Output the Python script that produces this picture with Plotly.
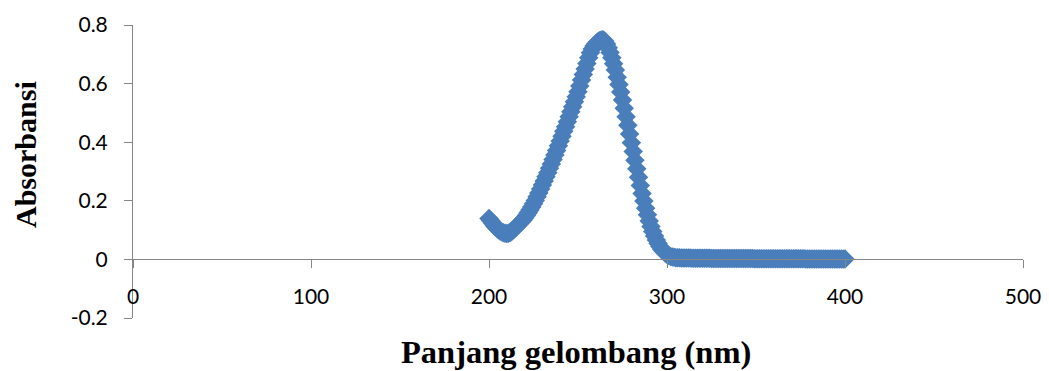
import plotly.graph_objects as go

# Wavelength (nm), 1 nm steps from 200 to 400
wavelength = list(range(200, 401))

# Absorbance (one value per nm)
absorb_peak = [
    0.140, 0.132, 0.124, 0.116, 0.109, 0.103, 0.098, 0.094, 0.091, 0.089,  # 200-209
    0.088, 0.089, 0.092, 0.097, 0.103, 0.110, 0.116, 0.122, 0.128, 0.134,  # 210-219
    0.141, 0.150, 0.159, 0.169, 0.179, 0.190, 0.201, 0.214, 0.227, 0.240,  # 220-229
    0.254, 0.268, 0.282, 0.296, 0.311, 0.326, 0.341, 0.356, 0.372, 0.388,  # 230-239
    0.404, 0.420, 0.437, 0.453, 0.470, 0.487, 0.504, 0.521, 0.538, 0.555,  # 240-249
    0.572, 0.592, 0.612, 0.631, 0.650, 0.669, 0.688, 0.705, 0.718, 0.728,  # 250-259
    0.736, 0.742, 0.746, 0.749, 0.750, 0.745, 0.735, 0.722, 0.706, 0.688,  # 260-269
    0.668, 0.646, 0.622, 0.597, 0.571, 0.544, 0.516, 0.487, 0.458, 0.428,  # 270-279
    0.398, 0.368, 0.338, 0.309, 0.280, 0.252, 0.225, 0.199, 0.175, 0.152,  # 280-289
    0.131, 0.112, 0.095, 0.080, 0.066, 0.054, 0.044, 0.035, 0.028, 0.022,  # 290-299
    0.017, 0.013, 0.010, 0.008, 0.007, 0.006,                              # 300-305
]
absorb_tail = [
    0.006, 0.006, 0.005, 0.005, 0.005, 0.005, 0.005, 0.005, 0.004, 0.004,  # 306-315
    0.004, 0.004, 0.004, 0.004, 0.004, 0.004, 0.004, 0.004, 0.004, 0.003,  # 316-325
    0.003, 0.003, 0.003, 0.003, 0.003, 0.003, 0.003, 0.003, 0.003, 0.003,  # 326-335
    0.003, 0.003, 0.003, 0.003, 0.003, 0.003, 0.003, 0.003, 0.003, 0.003,  # 336-345
    0.003, 0.003, 0.003, 0.002, 0.002, 0.002, 0.002, 0.002, 0.002, 0.002,  # 346-355
    0.002, 0.002, 0.002, 0.002, 0.002, 0.002, 0.002, 0.002, 0.002, 0.002,  # 356-365
    0.002, 0.002, 0.002, 0.002, 0.002, 0.002, 0.002, 0.002, 0.002, 0.002,  # 366-375
    0.002, 0.002, 0.001, 0.001, 0.001, 0.001, 0.001, 0.001, 0.001, 0.001,  # 376-385
    0.001, 0.001, 0.001, 0.001, 0.001, 0.001, 0.001, 0.001, 0.001, 0.001,  # 386-395
    0.001, 0.001, 0.001, 0.001, 0.001,                                     # 396-400
]
absorbance = absorb_peak + absorb_tail

x_ticks = [0, 100, 200, 300, 400, 500]
y_ticks = [-0.2, 0, 0.2, 0.4, 0.6, 0.8]
y_tick_text = ["-0.2", "0", "0.2", "0.4", "0.6", "0.8"]

x_title = "Panjang gelombang (nm)"
y_title = "Absorbansi"

axis_color = "#868686"
marker_color = "#4A7EBB"
tick_font = dict(family="Lato, Open Sans, sans-serif", size=21, color="#000000")
x_title_font = dict(family="Liberation Serif, Times New Roman, serif", size=32.5, color="#000000")
y_title_font = dict(family="Liberation Serif, Times New Roman, serif", size=30, color="#000000")

W, H = 1049, 371
ML, MR, MT, MB = 133, 26, 25, 53
pw, ph = W - ML - MR, H - MT - MB


def px_to_paper(px, py):
    return (px - ML) / pw, (H - MB - py) / ph


fig = go.Figure()
fig.add_trace(go.Scatter(
    x=wavelength, y=absorbance, mode="markers",
    marker=dict(symbol="diamond", size=15, color=marker_color, line=dict(width=0)),
    showlegend=False, hoverinfo="x+y",
))

xt_x, xt_y = px_to_paper(576, 352)
yt_x, yt_y = px_to_paper(25, 155)

fig.update_layout(
    width=W, height=H,
    margin=dict(l=ML, r=MR, t=MT, b=MB, autoexpand=False),
    paper_bgcolor="white", plot_bgcolor="white",
    xaxis=dict(
        range=[0, 500], tickvals=x_ticks, ticktext=[str(v) for v in x_ticks],
        showgrid=False, zeroline=False, showline=True, linecolor=axis_color, linewidth=1,
        ticks="outside", ticklen=8, tickcolor=axis_color, tickwidth=1,
        anchor="free", position=0.2, tickfont=tick_font, ticklabelstandoff=10,
        automargin=False,
    ),
    yaxis=dict(
        range=[-0.2, 0.8], tickvals=y_ticks, ticktext=y_tick_text,
        showgrid=False, zeroline=False, showline=True, linecolor=axis_color, linewidth=1,
        ticks="outside", ticklen=8, tickcolor=axis_color, tickwidth=1,
        tickfont=tick_font, ticklabelstandoff=12, automargin=False,
    ),
    annotations=[
        dict(text="<b>" + x_title + "</b>", x=xt_x, y=xt_y, xref="paper", yref="paper",
             xanchor="center", yanchor="middle", showarrow=False, font=x_title_font),
        dict(text="<b>" + y_title + "</b>", textangle=-90, x=yt_x, y=yt_y,
             xref="paper", yref="paper", xanchor="center", yanchor="middle",
             showarrow=False, font=y_title_font),
    ],
)

fig.write_html("out.html", config={"displayModeBar": False},
               post_script="document.body.style.margin='0';")
